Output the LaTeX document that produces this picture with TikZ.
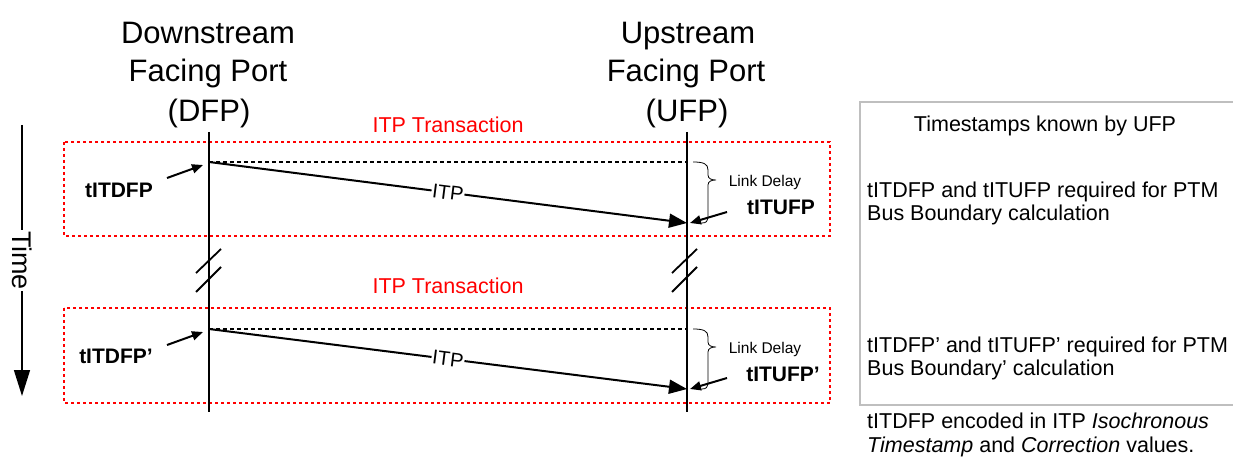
\documentclass[tikz,border=0pt]{standalone}
\usepackage{fontspec}
\setmainfont{Liberation Sans}
\usetikzlibrary{arrows.meta}
\begin{document}
\begin{tikzpicture}[x=1pt,y=-1pt,
  lifeline/.style={line width=2pt},
  msg/.style={line width=2pt,-{Triangle[length=18pt,width=14pt]}},
  ptr/.style={line width=2pt,-{Triangle[length=11pt,width=9pt]}},
  refline/.style={line width=1.5pt,dash pattern=on 4pt off 3pt},
  txbox/.style={draw=red,line width=1.6pt,dash pattern=on 3pt off 3pt},
  txlabel/.style={text=red,font=\fontsize{21.5}{25}\selectfont,anchor=base,inner sep=0pt},
  stamp/.style={font=\bfseries\fontsize{21}{24}\selectfont,inner sep=0pt},
  head/.style={font=\fontsize{31}{35}\selectfont,anchor=base,inner sep=0pt},
  note/.style={font=\fontsize{21.5}{24}\selectfont,anchor=base west,inner sep=0pt},
  delay/.style={font=\fontsize{15.5}{18}\selectfont,inner sep=0pt},
  itp/.style={font=\fontsize{20}{24}\selectfont,fill=white,inner sep=1pt},
  brk/.style={line width=1.8pt},
  bracepath/.style={line width=0.8pt},
  timearrow/.style={line width=1.5pt,-{Triangle[length=26pt,width=16pt]}}
]
\useasboundingbox (0,0) rectangle (1233,457);

% headers
\node[head] (h1a) at (208,44) {Downstream};
\node[head] (h1b) at (208,82) {Facing Port};
\node[head] (h1c) at (209,122) {(DFP)};
\node[head] (h2a) at (688,44) {Upstream};
\node[head] (h2b) at (686,82) {Facing Port};
\node[head] (h2c) at (687,122) {(UFP)};

% transaction boxes
\draw[txbox] (64,142) rectangle (830,236);
\draw[txbox] (64,308) rectangle (830,403);
\node[txlabel] (t1) at (448,133) {ITP Transaction};
\node[txlabel] (t2) at (448,293) {ITP Transaction};

% lifelines
\coordinate (dfpT) at (209,132);
\coordinate (dfpB) at (209,412);
\coordinate (ufpT) at (687,132);
\coordinate (ufpB) at (687,412);
\draw[lifeline] (dfpT) -- (dfpB);
\draw[lifeline] (ufpT) -- (ufpB);

% break marks
\draw[brk] (196,273) -- (221,249);
\draw[brk] (196,292) -- (221,267);
\draw[brk] (672,273) -- (697,249);
\draw[brk] (672,292) -- (697,267);

% transaction 1
\coordinate (s1) at (209,162);
\coordinate (u1) at (687,162);
\coordinate (r1) at (687,223);
\draw[refline] (s1) -- (u1);
\draw[msg] (s1) -- node[itp,sloped] {ITP} (r1);
\node[stamp] (d1) at (119,190) {tITDFP};
\coordinate (d1p) at (167,178);
\draw[ptr] (d1p) -- (203,165);
\node[stamp] (e1) at (781,207) {tITUFP};
\coordinate (e1p) at (727,212);
\draw[ptr] (e1p) -- (690,223);
\draw[bracepath] (693,162) .. controls (704,162) and (708,164) .. (708,170) -- (708,175)
  .. controls (708,179) and (712,180) .. (716,180) .. controls (712,180) and (708,181) .. (708,185)
  -- (708,218) .. controls (708,221) and (706,223) .. (702,223);
\node[delay] (l1) at (765,182) {Link Delay};

% transaction 2
\coordinate (s2) at (209,329);
\coordinate (u2) at (687,329);
\coordinate (r2) at (687,389);
\draw[refline] (s2) -- (u2);
\draw[msg] (s2) -- node[itp,sloped] {ITP} (r2);
\node[stamp] (d2) at (116,356) {tITDFP’};
\coordinate (d2p) at (167,345);
\draw[ptr] (d2p) -- (203,332);
\node[stamp] (e2) at (783,374) {tITUFP’};
\coordinate (e2p) at (727,378);
\draw[ptr] (e2p) -- (690,389);
\draw[bracepath] (693,329) .. controls (704,329) and (708,331) .. (708,337) -- (708,342)
  .. controls (708,346) and (712,347) .. (716,347) .. controls (712,347) and (708,348) .. (708,352)
  -- (708,384) .. controls (708,387) and (706,389) .. (702,389);
\node[delay] (l2) at (765,349) {Link Delay};

% time arrow
\coordinate (tT) at (22,125);
\coordinate (tB) at (22,396);
\draw[timearrow] (tT) -- node[fill=white,rotate=-90,inner sep=1pt,font=\fontsize{27}{30}\selectfont] (time) {Time} (tB);

% right info box
\draw[draw=black!25,line width=2pt] (860,102) rectangle (1250,405);
\node[note,anchor=base] (k0) at (1045,132) {Timestamps known by UFP};
\node[note] (k1) at (867,197) {tITDFP and tITUFP required for PTM};
\node[note] (k2) at (867,220) {Bus Boundary calculation};
\node[note] (k3) at (867,352) {tITDFP’ and tITUFP’ required for PTM};
\node[note] (k4) at (867,375) {Bus Boundary’ calculation};
\node[note] (k5) at (867,428) {tITDFP encoded in ITP \textit{Isochronous}};
\node[note] (k6) at (867,452) {\textit{Timestamp} and \textit{Correction} values.};
\end{tikzpicture}
\end{document}
